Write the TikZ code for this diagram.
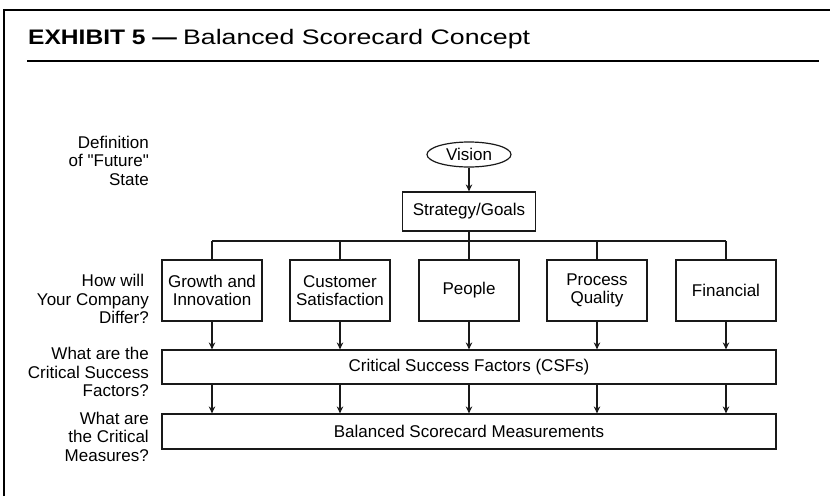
\documentclass[tikz,border=0pt]{standalone}
\usepackage{fontspec}
\usepackage{graphicx}
\setmainfont{Liberation Sans}[Ligatures=TeXOff]
\usetikzlibrary{shapes.geometric,arrows.meta}
\begin{document}
\begin{tikzpicture}[x=1pt,y=-1pt,
  ln/.style={line width=1.2pt, draw=black!90},
  box/.style={draw=black!90, line width=1.2pt, minimum width=100pt, minimum height=61pt, inner sep=0pt, align=center, font=\fontsize{17}{18}\selectfont},
  widebox/.style={draw=black!90, line width=1.2pt, minimum width=614pt, inner sep=0pt, align=center, font=\fontsize{17}{18}\selectfont},
  lbl/.style={anchor=east, align=right, inner sep=0pt, font=\fontsize{17}{18.5}\selectfont},
  arr/.style={-{Stealth[length=7pt,width=6.5pt]}, line width=1.1pt, draw=black!90}]
\useasboundingbox (0,0) rectangle (830,496);
% frame
\draw[line width=1.6pt] (4,496) -- (4,10) -- (830,10);
\draw[line width=1.2pt] (27,61) -- (819,61);
% title
\node[anchor=base west, inner sep=0pt, font=\fontsize{21}{24}\selectfont] (t1) at (28,44) {\scalebox{1.17}[1]{\bfseries EXHIBIT 5 —}};
\node[anchor=base west, inner sep=0pt, font=\fontsize{21}{24}\selectfont] (t2) at (183,44) {\scalebox{1.27}[1]{Balanced Scorecard Concept}};
% nodes
\node[ellipse, draw=black!90, line width=1.2pt, minimum width=84pt, minimum height=25pt, inner sep=0pt, font=\fontsize{17}{18}\selectfont] (vision) at (469,154.5) {Vision};
\node[draw=black!90, line width=1.2pt, minimum width=133pt, minimum height=39pt, inner sep=0pt, font=\fontsize{17}{18}\selectfont] (strat) at (469,211.5) {Strategy/Goals};
\node[box] (b1) at (212,290.5) {Growth and\\Innovation};
\node[box] (b2) at (340,290.5) {Customer\\Satisfaction};
\node[box] (b3) at (469,290.5) {People};
\node[box] (b4) at (597,290.5) {Process\\Quality};
\node[box] (b5) at (726,290.5) {Financial};
\node[widebox, minimum height=34pt] (csf) at (469,367) {Critical Success Factors (CSFs)};
\node[widebox, minimum height=35pt] (bsc) at (469,431.5) {Balanced Scorecard Measurements};
% labels
\node[lbl] (l1) at (149,160.5) {Definition\\of "Future"\\State};
\node[lbl] (l2) at (149,299) {How will\hphantom{ }\\Your Company\\Differ?};
\node[lbl] (l3) at (149,372) {What are the\\Critical Success\\Factors?};
\node[lbl] (l4) at (149,436.5) {What are\\the Critical\\Measures?};
% connectors
\coordinate (busL) at (212,241);
\coordinate (busR) at (726,241);
\draw[arr] (vision) -- (strat);
\draw[ln] (busL) -- (busR);
\draw[ln] (strat.south) -- (strat.south |- busL);
\foreach \b in {b1,b2,b3,b4,b5} {
  \draw[ln] (\b.north |- busL) -- (\b.north);
  \draw[arr] (\b.south) -- (\b.south |- csf.north);
  \draw[arr] (csf.south -| \b) -- (bsc.north -| \b);
}
\end{tikzpicture}
\end{document}
